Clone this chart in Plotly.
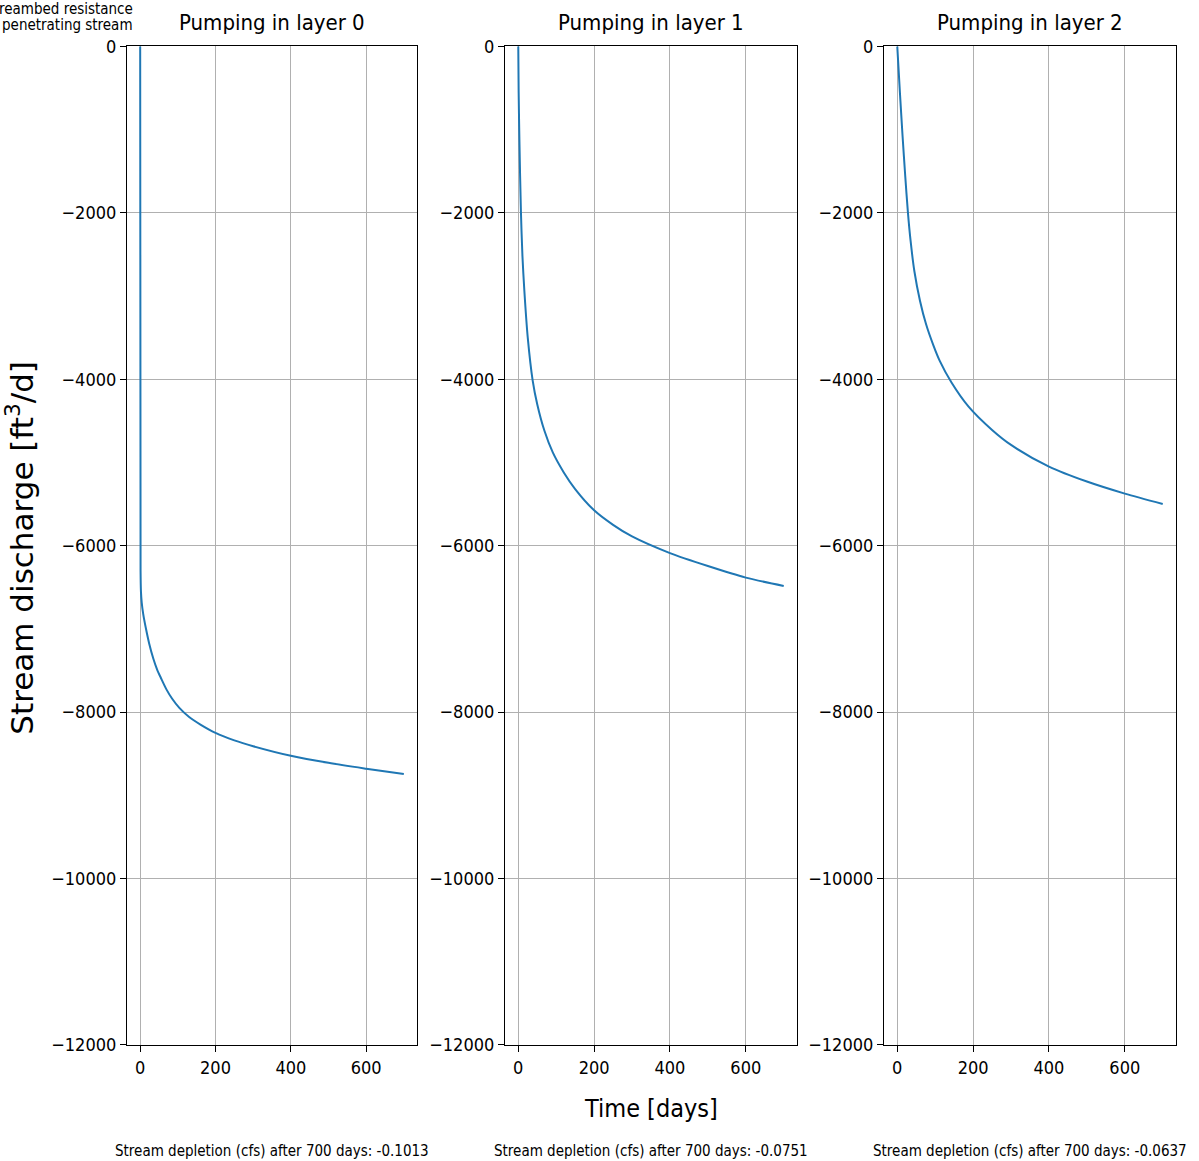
import plotly.graph_objects as go

W, H = 1199, 1161          # reference picture size
FIG_H = 1175               # figure height actually drawn
Y_OFF, Y_SCALE = 10.7, 0.9815   # observed page mapping (rendered_y = Y_OFF + Y_SCALE * fig_y)

# ---- data ----
t_layer0 = [0, 1, 2, 4, 8, 15, 24, 35, 45, 55, 70, 85, 104, 130, 160, 200, 250, 300, 400, 500, 600, 700]
q_layer0 = [0, -6300, -6550, -6680, -6820, -6990, -7178, -7360, -7490, -7590, -7730, -7840,
            -7950, -8060, -8150, -8250, -8340, -8410, -8525, -8610, -8680, -8745]

t_layer1 = [0, 1, 3, 7, 11, 16, 25, 38, 50, 69, 91, 120, 150, 200, 250, 300, 400, 500, 600, 700]
q_layer1 = [0, -550, -1130, -1992, -2520, -2934, -3500, -4016, -4300, -4620, -4880, -5120,
            -5320, -5575, -5750, -5890, -6090, -6245, -6384, -6485]

t_layer2 = [0, 7, 14, 21, 28, 35, 45, 60, 76, 95, 112, 143, 188, 250, 300, 400, 500, 600, 700]
q_layer2 = [0, -560, -1080, -1560, -1992, -2333, -2700, -3060, -3340, -3590, -3780, -4040,
            -4330, -4610, -4790, -5050, -5230, -5375, -5500]

panel_titles = ["Pumping in layer 0", "Pumping in layer 1", "Pumping in layer 2"]
depletion_cfs = [-0.1013, -0.0751, -0.0637]
days_total = 700
x_ticks = [0, 200, 400, 600]
y_ticks = [0, -2000, -4000, -6000, -8000, -10000, -12000]
x_range = [-35, 735]
y_range = [-12000, 0]
corner_lines = ["reambed resistance", "penetrating stream"]

series_t = [t_layer0, t_layer1, t_layer2]
series_q = [q_layer0, q_layer1, q_layer2]

# ---- layout helpers (target pixel positions in the reference) ----
def px_x(p):
    return p / W

def px_y(p):
    fig_y = (p - Y_OFF) / Y_SCALE
    return 1 - fig_y / FIG_H

panel_px = [(127, 417), (505, 797), (884, 1176)]
plot_top, plot_bottom = 46, 1044

FONT = "DejaVu Sans Condensed, DejaVu Sans, sans-serif"
LINE_COLOR = "#1f77b4"

fig = go.Figure()
layout = dict(
    width=W, height=FIG_H,
    margin=dict(l=0, r=0, t=0, b=0),
    paper_bgcolor="white", plot_bgcolor="white",
    showlegend=False,
    font=dict(family=FONT, size=18, color="black"),
)

annotations = []
ytick_text = [f"{v:d}".replace("-", "\u2212") for v in y_ticks]

for i in range(3):
    suffix = "" if i == 0 else str(i + 1)
    xa, ya = "x" + suffix, "y" + suffix
    fig.add_trace(go.Scatter(x=series_t[i], y=series_q[i], mode="lines",
                             line=dict(color=LINE_COLOR, width=2, shape="spline", smoothing=0.8),
                             xaxis=xa, yaxis=ya))
    l, r = panel_px[i]
    layout["xaxis" + suffix] = dict(
        domain=[px_x(l), px_x(r)], anchor=ya, range=x_range,
        tickvals=x_ticks, ticks="outside", ticklen=6, tickcolor="black",
        showline=True, linecolor="black", linewidth=1.2, mirror=True,
        showgrid=True, gridcolor="#b0b0b0", gridwidth=1, zeroline=False,
        tickfont=dict(size=18, family=FONT),
    )
    layout["yaxis" + suffix] = dict(
        domain=[px_y(plot_bottom), px_y(plot_top)], anchor=xa, range=y_range,
        tickvals=y_ticks, ticktext=ytick_text, ticks="outside", ticklen=6, tickcolor="black",
        showline=True, linecolor="black", linewidth=1.2, mirror=True,
        showgrid=True, gridcolor="#b0b0b0", gridwidth=1, zeroline=False,
        tickfont=dict(size=18, family=FONT),
    )
    cx = (l + r) / 2
    annotations.append(dict(text=panel_titles[i], x=px_x(cx), y=px_y(22), xref="paper", yref="paper",
                            xanchor="center", yanchor="middle", showarrow=False,
                            font=dict(size=22, family=FONT)))
    annotations.append(dict(text=f"Stream depletion (cfs) after {days_total} days: {depletion_cfs[i]:.4f}",
                            x=px_x(cx), y=px_y(1150), xref="paper", yref="paper",
                            xanchor="center", yanchor="middle", showarrow=False,
                            font=dict(size=15, family=FONT)))

annotations.append(dict(text="Time [days]", x=px_x(651), y=px_y(1107), xref="paper", yref="paper",
                        xanchor="center", yanchor="middle", showarrow=False,
                        font=dict(size=25, family=FONT)))
annotations.append(dict(text="Stream discharge [ft<sup>3</sup>/d]", x=px_x(20), y=px_y(547),
                        xref="paper", yref="paper", xanchor="center", yanchor="middle",
                        textangle=-90, showarrow=False,
                        font=dict(size=31, family="DejaVu Sans, sans-serif")))
for line_text, y_center in zip(corner_lines, [9, 25]):
    annotations.append(dict(text=line_text, x=px_x(135), y=px_y(y_center),
                            xref="paper", yref="paper", xanchor="right", yanchor="middle",
                            showarrow=False, font=dict(size=15, family=FONT)))

layout["annotations"] = annotations
fig.update_layout(**layout)
fig.write_html("out.html", config={"displayModeBar": False},
               post_script="document.body.style.margin='0';document.body.style.padding='0';"
                           "document.body.style.overflow='hidden';")
